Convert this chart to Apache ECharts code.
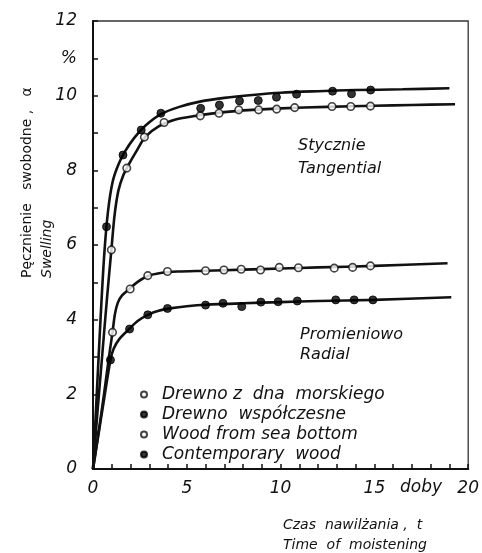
<!DOCTYPE html>
<html>
<head>
<meta charset="utf-8">
<script src="https://cdn.jsdelivr.net/npm/echarts@6/dist/echarts.min.js"></script>
<style>
html,body{margin:0;padding:0;background:#fff;}
#c{width:482px;height:553px;}
</style>
</head>
<body>
<div id="c"></div>
<script>
// ---- measured points (days, %) ----
const tanContempX = [0.72, 1.6, 2.57, 3.62, 5.74, 6.74, 7.81, 8.81, 9.78, 10.85, 12.77, 13.78, 14.8];
const tanContempY = [6.49, 8.41, 9.08, 9.53, 9.66, 9.75, 9.86, 9.87, 9.96, 10.04, 10.12, 10.05, 10.15];
const tanSeaX = [0.98, 1.8, 2.74, 3.79, 5.72, 6.72, 7.77, 8.83, 9.79, 10.75, 12.74, 13.74, 14.79];
const tanSeaY = [5.87, 8.06, 8.89, 9.28, 9.46, 9.53, 9.62, 9.62, 9.64, 9.68, 9.71, 9.71, 9.72];
const radSeaX = [1.04, 1.98, 2.92, 3.97, 6.0, 6.98, 7.9, 8.93, 9.93, 10.95, 12.86, 13.84, 14.79];
const radSeaY = [3.66, 4.82, 5.18, 5.29, 5.31, 5.33, 5.35, 5.33, 5.40, 5.39, 5.38, 5.40, 5.44];
const radContempX = [0.93, 1.95, 2.92, 3.97, 6.0, 6.93, 7.93, 8.95, 9.87, 10.89, 12.94, 13.92, 14.92];
const radContempY = [2.92, 3.75, 4.13, 4.30, 4.39, 4.44, 4.35, 4.47, 4.48, 4.50, 4.53, 4.53, 4.53];

// ---- fitted curves ----
const tanContempCurveX = [0, 0.2, 0.4, 0.6, 0.8, 1.05, 1.35, 1.7, 2.2, 2.8, 3.6, 4.6, 5.7, 7, 8.5, 10, 12, 14, 16.5, 19];
const tanContempCurveY = [0, 2.0, 4.0, 5.75, 6.9, 7.7, 8.15, 8.5, 8.87, 9.2, 9.5, 9.7, 9.84, 9.94, 10.02, 10.08, 10.12, 10.15, 10.17, 10.2];
const tanSeaCurveX = [0, 0.25, 0.5, 0.75, 0.98, 1.15, 1.35, 1.6, 1.9, 2.3, 2.8, 3.5, 4.4, 5.5, 7, 8.5, 10, 12.5, 15, 17, 19.3];
const tanSeaCurveY = [0, 1.6, 3.1, 4.6, 5.87, 6.8, 7.45, 7.85, 8.15, 8.5, 8.9, 9.18, 9.36, 9.46, 9.56, 9.62, 9.66, 9.7, 9.73, 9.75, 9.77];
const radSeaCurveX = [0, 0.3, 0.6, 0.85, 1.04, 1.17, 1.32, 1.55, 1.95, 2.4, 2.92, 3.6, 4.5, 6, 8, 10, 12, 15, 18.9];
const radSeaCurveY = [0, 1.0, 2.05, 3.0, 3.66, 4.15, 4.45, 4.65, 4.83, 5.02, 5.17, 5.25, 5.29, 5.31, 5.34, 5.37, 5.4, 5.44, 5.51];
const radContempCurveX = [0, 0.3, 0.6, 0.93, 1.1, 1.4, 1.95, 2.4, 2.92, 3.5, 4.2, 5, 6, 8, 10, 12, 15, 19.1];
const radContempCurveY = [0, 0.95, 1.9, 2.92, 3.22, 3.48, 3.76, 3.97, 4.13, 4.24, 4.31, 4.36, 4.4, 4.44, 4.47, 4.5, 4.53, 4.6];

// ---- axis ticks / labels ----
const xMin = 0, xMax = 20, xStep = 1, xLabelEvery = 5;
const yMin = 0, yMax = 12, yStep = 1;
const yUnitTick = 11, yUnitLabel = '%';
const xUnitText = 'doby';

const legendNames = ['Drewno z  dna  morskiego', 'Drewno  współczesne', 'Wood from sea bottom', 'Contemporary  wood'];

const zip = (xs, ys) => xs.map((x, i) => [x, ys[i]]);
const FONT = 'DejaVu Sans';
const INK = '#111';

const chart = echarts.init(document.getElementById('c'), null, {renderer: 'canvas'});

const curve = (name, xs, ys) => ({
  type: 'line', name: name, data: zip(xs, ys), showSymbol: false, symbol: 'none',
  smooth: 0.3, silent: true, z: 2,
  lineStyle: {color: INK, width: 2.6}
});
const dots = (name, xs, ys, open) => ({
  type: 'scatter', name: name, data: zip(xs, ys), symbol: 'circle', symbolSize: open ? 7.5 : 8, z: 5,
  itemStyle: open ? {color: '#fff', borderColor: INK, borderWidth: 1.6} : {color: '#000', borderColor: '#000', borderWidth: 1}
});

const option = {
  animation: false,
  backgroundColor: '#fff',
  grid: {left: 93, right: 10, top: 21, bottom: 84, show: true, borderColor: '#333', borderWidth: 1.3, backgroundColor: 'transparent'},
  xAxis: {
    type: 'value', min: xMin, max: xMax, interval: xStep,
    axisLine: {show: true, lineStyle: {color: INK, width: 2.2}},
    axisTick: {show: true, inside: true, length: 5, lineStyle: {color: INK, width: 1.5}},
    splitLine: {show: false},
    axisLabel: {
      margin: 11, color: INK, fontFamily: FONT, fontStyle: 'italic', fontSize: 17,
      formatter: v => (v % xLabelEvery === 0 ? String(v) : '')
    }
  },
  yAxis: {
    type: 'value', min: yMin, max: yMax, interval: yStep,
    axisLine: {show: true, lineStyle: {color: INK, width: 2}},
    axisTick: {show: true, inside: true, length: 5, lineStyle: {color: INK, width: 1.5}},
    splitLine: {show: false},
    axisLabel: {
      margin: 16, color: INK, fontFamily: FONT, fontStyle: 'italic', fontSize: 17,
      formatter: v => (v === yUnitTick ? yUnitLabel : (v % 2 === 0 ? String(v) : ''))
    }
  },
  legend: {
    data: legendNames, orient: 'vertical', left: 135, top: 381, itemGap: 3,
    itemWidth: 26, itemHeight: 6, icon: 'circle', selectedMode: false,
    textStyle: {color: INK, fontFamily: FONT, fontStyle: 'italic', fontSize: 17, lineHeight: 17}
  },
  series: [
    curve('tc', tanContempCurveX, tanContempCurveY),
    curve('ts', tanSeaCurveX, tanSeaCurveY),
    curve('rs', radSeaCurveX, radSeaCurveY),
    curve('rc', radContempCurveX, radContempCurveY),
    dots(legendNames[0], tanSeaX, tanSeaY, true),
    dots(legendNames[1], tanContempX, tanContempY, false),
    dots(legendNames[2], radSeaX, radSeaY, true),
    dots(legendNames[3], radContempX, radContempY, false)
  ],
  graphic: [
    {type: 'text', left: 298, top: 138, style: {text: 'Stycznie', font: 'italic 16px "DejaVu Sans"', fill: INK}},
    {type: 'text', left: 298, top: 161, style: {text: 'Tangential', font: 'italic 16px "DejaVu Sans"', fill: INK}},
    {type: 'text', left: 300, top: 327, style: {text: 'Promieniowo', font: 'italic 16px "DejaVu Sans"', fill: INK}},
    {type: 'text', left: 300, top: 347, style: {text: 'Radial', font: 'italic 16px "DejaVu Sans"', fill: INK}},
    {type: 'text', left: 400, top: 479, style: {text: xUnitText, font: 'italic 17px "DejaVu Sans"', fill: INK}},
    {type: 'text', left: 283, top: 518, style: {text: 'Czas  nawilżania ,  t', font: 'italic 14px "DejaVu Sans"', fill: INK}},
    {type: 'text', left: 283, top: 538, style: {text: 'Time  of  moistening', font: 'italic 14px "DejaVu Sans"', fill: INK}},
    {type: 'text', x: 27, y: 278, rotation: Math.PI / 2,
     style: {text: 'Pęcznienie   swobodne ,   α', font: '14px "DejaVu Sans"', fill: INK, align: 'left', verticalAlign: 'middle'}},
    {type: 'text', x: 47, y: 278, rotation: Math.PI / 2,
     style: {text: 'Swelling', font: 'italic 14px "DejaVu Sans"', fill: INK, align: 'left', verticalAlign: 'middle'}}
  ]
};
chart.setOption(option);
</script>
</body>
</html>
